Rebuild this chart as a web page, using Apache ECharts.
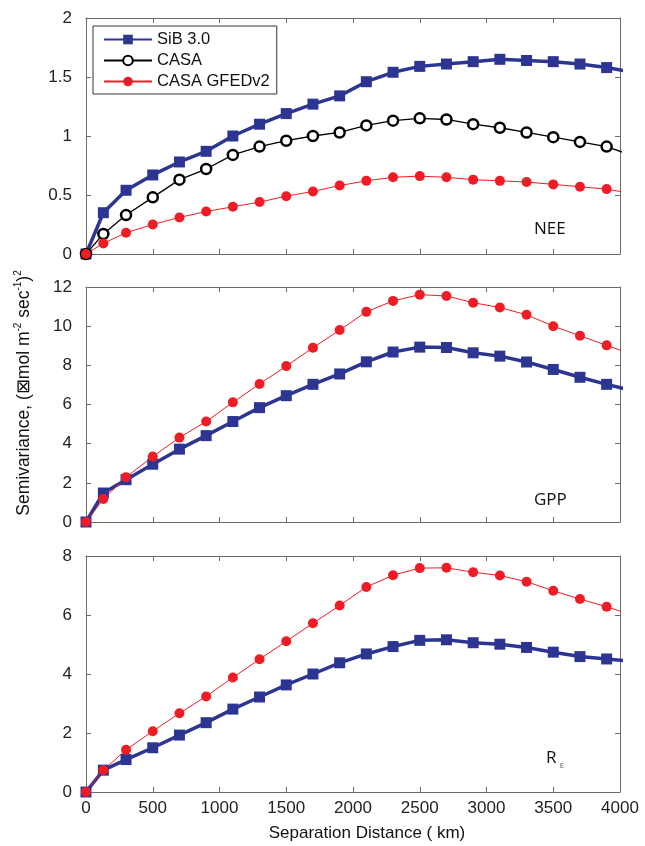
<!DOCTYPE html>
<html>
<head>
<meta charset="utf-8">
<script src="https://cdn.jsdelivr.net/npm/echarts@6/dist/echarts.min.js"></script>
<style>
  html, body { margin: 0; padding: 0; background: #fff; }
  #chart { width: 645px; height: 846px; }
</style>
</head>
<body>
<div id="chart"></div>
<script>
  // separation distance (km); last point lies past the axis end and is clipped
  const distance = [0, 130, 300, 500, 700, 900, 1100, 1300, 1500, 1700, 1900, 2100, 2300, 2500, 2700, 2900, 3100, 3300, 3500, 3700, 3900, 4100]
  const neeSib = [0, 0.35, 0.54, 0.67, 0.78, 0.87, 1.00, 1.10, 1.19, 1.27, 1.34, 1.46, 1.54, 1.59, 1.61, 1.63, 1.65, 1.64, 1.63, 1.61, 1.58, 1.54]
  const neeCasa = [0, 0.17, 0.33, 0.48, 0.63, 0.72, 0.84, 0.91, 0.96, 1.00, 1.03, 1.09, 1.13, 1.15, 1.14, 1.10, 1.07, 1.03, 0.99, 0.95, 0.91, 0.83]
  const neeGfed = [0, 0.09, 0.18, 0.25, 0.31, 0.36, 0.40, 0.44, 0.49, 0.53, 0.58, 0.62, 0.65, 0.66, 0.65, 0.63, 0.62, 0.61, 0.59, 0.57, 0.55, 0.51]
  const gppSib = [0, 1.48, 2.16, 2.95, 3.72, 4.41, 5.13, 5.84, 6.45, 7.03, 7.56, 8.18, 8.68, 8.93, 8.91, 8.64, 8.47, 8.17, 7.79, 7.39, 7.03, 6.69]
  const gppGfed = [0, 1.17, 2.29, 3.34, 4.31, 5.13, 6.11, 7.05, 7.96, 8.90, 9.80, 10.73, 11.29, 11.61, 11.54, 11.20, 10.95, 10.58, 10.00, 9.51, 9.02, 8.54]
  const reSib = [0, 0.74, 1.10, 1.50, 1.93, 2.35, 2.81, 3.22, 3.63, 4.00, 4.38, 4.68, 4.93, 5.14, 5.16, 5.06, 5.01, 4.90, 4.74, 4.59, 4.51, 4.43]
  const reGfed = [0, 0.74, 1.43, 2.06, 2.67, 3.24, 3.88, 4.50, 5.11, 5.72, 6.32, 6.95, 7.35, 7.59, 7.60, 7.45, 7.34, 7.13, 6.82, 6.54, 6.28, 5.98]
  const yRanges = [[0, 2, 0.5], [0, 12, 2], [0, 8, 2]]
  const legendNames = ['SiB 3.0', 'CASA', 'CASA GFEDv2']

  var font = 'Liberation Sans, Arial, sans-serif'
  var axisGrey = '#6b6b6b'
  var blue = '#2D3592'
  var red = '#EE1C25'

  function pairs (ys) {
    return distance.map(function (x, i) { return [x, ys[i]] })
  }

  var grids = [
    {left: 86, width: 534, top: 18, height: 236},
    {left: 86, width: 534, top: 287, height: 235},
    {left: 86, width: 534, top: 556, height: 236}
  ]

  var xAxes = []
  var yAxes = []
  grids.forEach(function (g, i) {
    var tick = {show: true, inside: true, length: 5, lineStyle: {color: axisGrey}}
    var line = {show: true, onZero: false, lineStyle: {color: axisGrey, width: 1}}
    xAxes.push({
      type: 'value', gridIndex: i, position: 'bottom', min: 0, max: 4000, interval: 500,
      axisLine: line, axisTick: tick, splitLine: {show: false},
      axisLabel: {
        show: i === 2, color: '#222', fontSize: 17, fontFamily: font, margin: 8,
        formatter: function (v) { return String(v) }
      }
    })
    xAxes.push({
      type: 'value', gridIndex: i, position: 'top', min: 0, max: 4000, interval: 500,
      axisLine: line, axisTick: tick, splitLine: {show: false}, axisLabel: {show: false}
    })
    yAxes.push({
      type: 'value', gridIndex: i, position: 'left', min: yRanges[i][0], max: yRanges[i][1], interval: yRanges[i][2],
      axisLine: line, axisTick: tick, splitLine: {show: false},
      axisLabel: {color: '#222', fontSize: 17, fontFamily: font, margin: 14}
    })
    yAxes.push({
      type: 'value', gridIndex: i, position: 'right', min: yRanges[i][0], max: yRanges[i][1], interval: yRanges[i][2],
      axisLine: line, axisTick: tick, splitLine: {show: false}, axisLabel: {show: false}
    })
  })

  function sib (data, i) {
    return {
      name: 'SiB 3.0', type: 'line', xAxisIndex: 2 * i, yAxisIndex: 2 * i, data: pairs(data),
      symbol: 'rect', symbolSize: 11, showAllSymbol: true,
      lineStyle: {color: blue, width: 3.5}, itemStyle: {color: blue}
    }
  }
  function casa (data, i) {
    return {
      name: 'CASA', type: 'line', xAxisIndex: 2 * i, yAxisIndex: 2 * i, data: pairs(data),
      symbol: 'circle', symbolSize: 10, showAllSymbol: true,
      lineStyle: {color: '#000', width: 1.3},
      itemStyle: {color: '#fff', borderColor: '#000', borderWidth: 2.5}
    }
  }
  function gfed (data, i) {
    return {
      name: 'CASA GFEDv2', type: 'line', xAxisIndex: 2 * i, yAxisIndex: 2 * i, data: pairs(data),
      symbol: 'circle', symbolSize: 10, showAllSymbol: true,
      lineStyle: {color: red, width: 1}, itemStyle: {color: red}
    }
  }

  var option = {
    animation: false,
    backgroundColor: '#fff',
    grid: grids,
    xAxis: xAxes,
    yAxis: yAxes,
    legend: {
      data: legendNames,
      orient: 'vertical',
      left: 93,
      top: 26,
      padding: [5, 7, 4, 10],
      itemGap: 4,
      itemWidth: 48,
      itemHeight: 12,
      borderColor: '#333',
      borderWidth: 1,
      backgroundColor: '#fff',
      textStyle: {fontSize: 16.5, fontFamily: font, color: '#111'}
    },
    series: [
      sib(neeSib, 0), casa(neeCasa, 0), gfed(neeGfed, 0),
      sib(gppSib, 1), gfed(gppGfed, 1),
      sib(reSib, 2), gfed(reGfed, 2)
    ],
    graphic: [
      {type: 'text', left: 534, top: 221, style: {text: 'NEE', fontSize: 17, fontFamily: 'Open Sans', fill: '#111'}},
      {type: 'text', left: 534, top: 492, style: {text: 'GPP', fontSize: 17, fontFamily: 'Open Sans', fill: '#111'}},
      {
        type: 'text', left: 546, top: 750,
        style: {
          text: '{r|R} {e|E}',
          rich: {
            r: {fontSize: 17, fontFamily: 'Open Sans', fill: '#111', lineHeight: 22},
            e: {fontSize: 8, fontFamily: 'Open Sans', fill: '#555', lineHeight: 10, verticalAlign: 'bottom'}
          }
        }
      },
      {
        type: 'text', x: 367, y: 833,
        style: {text: 'Separation Distance ( km)', fontSize: 17, fontFamily: font, fill: '#111', align: 'center', verticalAlign: 'middle'}
      },
      {
        type: 'text', x: 24, y: 393, rotation: Math.PI / 2,
        style: {
          text: '{m|Semivariance, (\u22A0mol m}{s|-2}{m| sec}{s|-1}{m|)}{s|2}',
          align: 'center', verticalAlign: 'middle',
          rich: {
            m: {fontSize: 17.5, fontFamily: font, fill: '#111', lineHeight: 22},
            s: {fontSize: 10, fontFamily: font, fill: '#111', lineHeight: 12, verticalAlign: 'top'}
          }
        }
      }
    ]
  }

  var chart = echarts.init(document.getElementById('chart'))
  chart.setOption(option)
</script>
</body>
</html>
